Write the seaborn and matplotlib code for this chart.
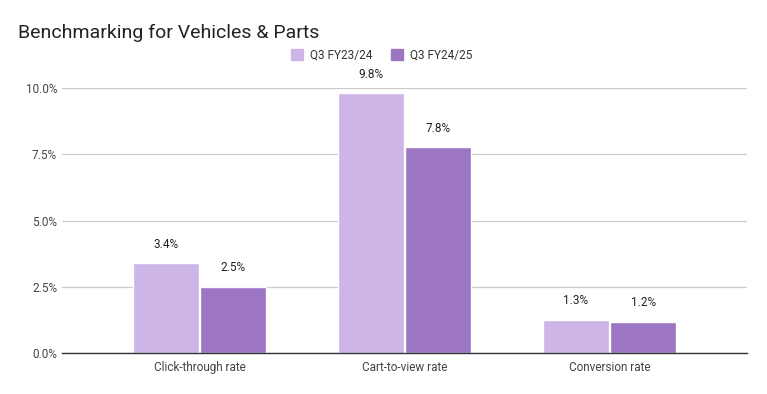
import matplotlib.pyplot as plt
import pandas as pd
import seaborn as sns
from matplotlib.ticker import FuncFormatter

# Données du graphique
metrics = ["Click-through rate", "Cart-to-view rate", "Conversion rate"]
periods = ["Q3 FY23/24", "Q3 FY24/25"]
values_fy2324 = [3.38, 9.8, 1.26]
values_fy2425 = [2.5, 7.76, 1.18]
colors = ["#cdb5e7", "#9c76c3"]

df = pd.DataFrame(
    {
        "Metric": metrics * 2,
        "Period": [periods[0]] * 3 + [periods[1]] * 3,
        "Value": values_fy2324 + values_fy2425,
    }
)

sns.set_style("white")
plt.rcParams["font.family"] = ["Roboto", "DejaVu Sans"]

fig = plt.figure(figsize=(7.67, 3.94), dpi=100)
ax = fig.add_axes([62 / 767, 1 - 353 / 394, 685 / 767, 265 / 394])

sns.barplot(
    data=df,
    x="Metric",
    y="Value",
    hue="Period",
    palette=colors,
    width=0.655,
    gap=0.025,
    saturation=1,
    ax=ax,
    legend=False,
)

# Étiquettes de valeurs
for container in ax.containers:
    ax.bar_label(
        container,
        labels=[f"{b.get_height():.1f}%" for b in container],
        padding=9,
        fontsize=8.5,
        color="#222222",
    )

ax.set_xlim(-0.67, 2.67)
ax.set_ylim(0, 10)
ax.set_yticks([0, 2.5, 5, 7.5, 10])
ax.yaxis.set_major_formatter(FuncFormatter(lambda v, _: f"{v:.1f}%"))
ax.grid(axis="y", color="#cccccc", linewidth=0.9)
ax.set_axisbelow(True)
for side in ["top", "right", "left"]:
    ax.spines[side].set_visible(False)
ax.spines["bottom"].set_color("#333333")
ax.spines["bottom"].set_linewidth(1)
ax.tick_params(axis="both", length=0, labelsize=8.5, colors="#444444")
ax.tick_params(axis="x", pad=6)
ax.set_xlabel("")
ax.set_ylabel("")

# Légende manuelle en haut
handles = [plt.Rectangle((0, 0), 1, 1, color=c) for c in colors]
fig.legend(
    handles,
    periods,
    loc="center",
    bbox_to_anchor=(382 / 767, 1 - 55 / 394),
    ncol=2,
    frameon=False,
    fontsize=8.5,
    handlelength=1.0,
    handleheight=1.0,
    handletextpad=0.6,
    columnspacing=1.6,
    labelcolor="#333333",
)

fig.text(18 / 767, 1 - 33 / 394, "Benchmarking for Vehicles & Parts",
         fontsize=14, color="#222222", va="center")

fig.savefig("out.png", dpi=100, facecolor="white")
